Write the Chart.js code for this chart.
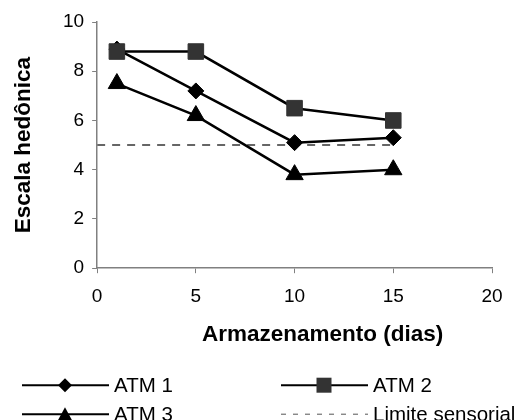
<!DOCTYPE html>
<html>
<head>
<meta charset="utf-8">
<script src="https://cdn.jsdelivr.net/npm/chart.js@4/dist/chart.umd.min.js"></script>
<style>
  html, body { margin: 0; padding: 0; background: #fff; }
  #wrap { width: 520px; height: 420px; position: relative; }
</style>
</head>
<body>
<div id="wrap"><canvas id="grafico"></canvas></div>
<script>
// Dados
const dias = [1, 5, 10, 15];
const atm1 = [8.9, 7.2, 5.1, 5.3];
const atm2 = [8.8, 8.8, 6.5, 6.0];
const atm3 = [7.5, 6.2, 3.8, 4.0];
const limiteDias = [0, 15];
const limiteValor = [5, 5];
const ticksX = [0, 5, 10, 15, 20];
const ticksY = [0, 2, 4, 6, 8, 10];

const fonte = 'Arial, "Liberation Sans", sans-serif';
const pares = (xs, ys) => xs.map((x, i) => ({ x: x, y: ys[i] }));

// Legenda desenhada no canvas (linha + marcador + texto)
const legendaPlugin = {
    id: 'legendaExcel',
    afterDraw(chart) {
        const ctx = chart.ctx;
        const area = chart.chartArea;
        ctx.save();

        // título do eixo X
        ctx.fillStyle = '#000';
        ctx.font = 'bold 22.5px ' + fonte;
        ctx.textAlign = 'center';
        ctx.textBaseline = 'middle';
        ctx.fillText('Armazenamento (dias)', (area.left + area.right) / 2 + 28, area.bottom + 67);

        const itens = [
            { texto: 'ATM 1', marca: 'diamante', col: 0, lin: 0 },
            { texto: 'ATM 2', marca: 'quadrado', col: 1, lin: 0 },
            { texto: 'ATM 3', marca: 'triangulo', col: 0, lin: 1 },
            { texto: 'Limite sensorial', marca: 'tracejado', col: 1, lin: 1 }
        ];
        itens.forEach(item => {
            const x0 = 22 + item.col * 259;
            const y = area.bottom + 117 + item.lin * 29;
            if (item.marca === 'tracejado') {
                ctx.strokeStyle = '#555';
                ctx.lineWidth = 1;
                ctx.setLineDash([5, 7]);
            } else {
                ctx.strokeStyle = '#000';
                ctx.lineWidth = 2;
                ctx.setLineDash([]);
            }
            ctx.beginPath();
            ctx.moveTo(x0, y);
            ctx.lineTo(x0 + 87, y);
            ctx.stroke();
            ctx.setLineDash([]);

            const cx = x0 + 43;
            ctx.beginPath();
            if (item.marca === 'diamante') {
                ctx.fillStyle = '#000';
                ctx.moveTo(cx, y - 7); ctx.lineTo(cx + 7, y); ctx.lineTo(cx, y + 7); ctx.lineTo(cx - 7, y);
                ctx.closePath(); ctx.fill();
            } else if (item.marca === 'quadrado') {
                ctx.fillStyle = '#333';
                ctx.rect(cx - 7.5, y - 7.5, 15, 15); ctx.fill();
            } else if (item.marca === 'triangulo') {
                ctx.fillStyle = '#000';
                ctx.moveTo(cx, y - 7); ctx.lineTo(cx + 7, y + 6); ctx.lineTo(cx - 7, y + 6);
                ctx.closePath(); ctx.fill();
            }

            ctx.fillStyle = '#000';
            ctx.font = '20.5px ' + fonte;
            ctx.textAlign = 'left';
            ctx.textBaseline = 'middle';
            ctx.fillText(item.texto, x0 + 92, y + 1);
        });
        ctx.restore();
    }
};

const ctx = document.getElementById('grafico').getContext('2d');

new Chart(ctx, {
    type: 'scatter',
    data: {
        datasets: [
            {
                label: 'Limite sensorial',
                data: pares(limiteDias, limiteValor),
                showLine: true,
                borderColor: '#666',
                borderWidth: 2,
                borderDash: [8, 7],
                pointRadius: 0,
                order: 4
            },
            {
                label: 'ATM 3',
                data: pares(dias, atm3),
                showLine: true,
                borderColor: '#000',
                borderWidth: 2.5,
                pointStyle: 'triangle',
                pointRadius: 10,
                pointBackgroundColor: '#000',
                pointBorderColor: '#000',
                pointBorderWidth: 1,
                order: 3
            },
            {
                label: 'ATM 1',
                data: pares(dias, atm1),
                showLine: true,
                borderColor: '#000',
                borderWidth: 2.5,
                pointStyle: 'rectRot',
                pointRadius: 8,
                pointBackgroundColor: '#000',
                pointBorderColor: '#000',
                pointBorderWidth: 1,
                order: 2
            },
            {
                label: 'ATM 2',
                data: pares(dias, atm2),
                showLine: true,
                borderColor: '#000',
                borderWidth: 2.5,
                pointStyle: 'rect',
                pointRadius: 11,
                pointBackgroundColor: '#333',
                pointBorderColor: '#333',
                pointBorderWidth: 1,
                order: 1
            }
        ]
    },
    options: {
        responsive: true,
        maintainAspectRatio: false,
        animation: false,
        layout: {
            padding: { left: 6, top: 22, right: 28, bottom: 100 }
        },
        plugins: {
            legend: { display: false },
            tooltip: { enabled: false }
        },
        scales: {
            x: {
                type: 'linear',
                min: 0,
                max: 20,
                afterBuildTicks: axis => { axis.ticks = ticksX.map(v => ({ value: v })); },
                grid: {
                    drawOnChartArea: false,
                    drawTicks: true,
                    tickLength: 5,
                    color: '#808080'
                },
                border: { display: true, color: '#808080', width: 1.5 },
                ticks: {
                    color: '#000',
                    padding: 12,
                    font: { family: fonte, size: 19 }
                }
            },
            y: {
                type: 'linear',
                min: 0,
                max: 10,
                afterBuildTicks: axis => { axis.ticks = ticksY.map(v => ({ value: v })); },
                grid: {
                    drawOnChartArea: false,
                    drawTicks: true,
                    tickLength: 5,
                    color: '#808080'
                },
                border: { display: true, color: '#808080', width: 1.5 },
                ticks: {
                    color: '#000',
                    padding: 8,
                    font: { family: fonte, size: 19 }
                },
                title: {
                    display: true,
                    text: 'Escala hedônica',
                    color: '#000',
                    font: { family: fonte, size: 22.5, weight: 'bold' },
                    padding: { top: 4, bottom: 18 }
                }
            }
        }
    },
    plugins: [legendaPlugin]
});
</script>
</body>
</html>
